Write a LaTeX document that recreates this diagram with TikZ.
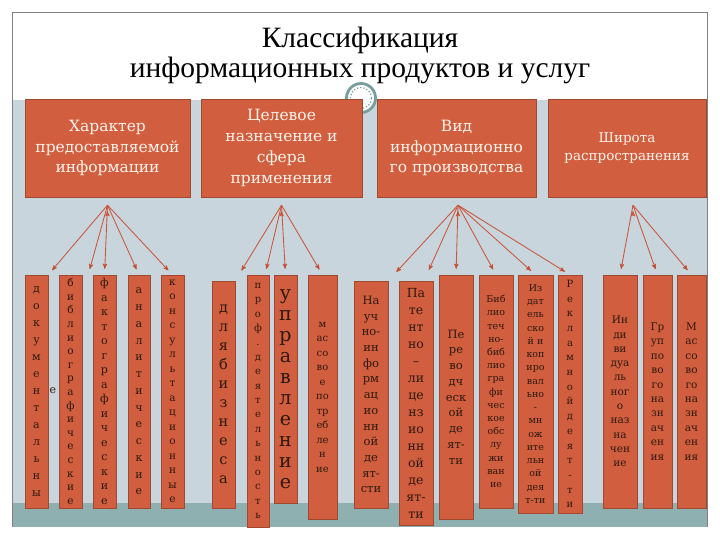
\documentclass[tikz,border=0pt]{standalone}
\usepackage{fontspec}
\setmainfont{Liberation Serif}
\newfontfamily\boxfont{DejaVu Serif}
\usetikzlibrary{arrows}
\definecolor{boxfill}{RGB}{209,94,62}
\definecolor{boxedge}{RGB}{160,72,48}
\definecolor{panel}{RGB}{201,213,220}
\definecolor{band}{RGB}{143,176,176}
\definecolor{ringcol}{RGB}{118,158,158}
\definecolor{arrcol}{RGB}{200,85,58}
\definecolor{coltext}{RGB}{45,25,15}
\definecolor{headtext}{RGB}{253,243,235}
\newcommand\colsize[2]{\boxfont\fontsize{#1}{#2}\selectfont}

\begin{document}
\begin{tikzpicture}[x=1pt,y=-1pt,>=stealth',
    head/.style={draw=boxedge, fill=boxfill, text=headtext, inner sep=0pt, align=center, minimum height=98pt},
    col/.style={draw=boxedge, fill=boxfill, text=coltext, inner sep=0pt, align=center},
    arr/.style={->, draw=arrcol, line width=0.85pt, shorten >=6pt}]
\useasboundingbox (0,0) rectangle (720,540);
% background
\fill[panel] (12,100) rectangle (707,527);
\fill[band] (12,503) rectangle (707,527);
\draw[gray, line width=0.8pt] (12,527) |- (707,12) -- (707,527);
\node[align=center, font=\fontsize{29.5}{30}\selectfont] (title) at (360,55) {Классификация\\информационных продуктов и услуг};
\draw[ringcol, line width=2.8pt, fill=white] (361,98) circle (14.5pt);
\draw[ringcol, line width=1.2pt, dotted] (361,98) circle (10.5pt);

% top boxes
\node[head, minimum width=165pt, font=\colsize{15.5}{20.5}] (h1) at (107.5,148) {Характер\\предоставляемой\\информации};
\node[head, minimum width=161pt, font=\colsize{15.5}{21}] (h2) at (281.5,148) {Целевое\\назначение и\\сфера\\применения};
\node[head, minimum width=159pt, font=\colsize{15.5}{20.5}] (h3) at (456.5,148) {Вид\\информационно\\го производства};
\node[head, minimum width=158pt, font=\colsize{13.5}{18}] (h4) at (627,148) {Широта\\распространения};
\coordinate (o1) at ([yshift=-8pt]h1.south);
\coordinate (o2) at ([yshift=-8pt]h2.south);
\coordinate (o3) at ([xshift=1.5pt,yshift=-8pt]h3.south);
\coordinate (o4) at ([xshift=6pt,yshift=-8pt]h4.south);

% columns
\node[col, minimum width=23pt, minimum height=233pt, font=\colsize{11}{17}] (d1) at (36.5,391.5) {д\\о\\к\\у\\м\\е\\н\\т\\а\\л\\ь\\н\\ы};
\node[text=coltext, inner sep=0pt, font=\colsize{11}{17}] (stray) at (53,391) {е};
\node[col, minimum width=23pt, minimum height=233pt, font=\colsize{10.5}{13.6}] (d2) at (70.5,391.5) {б\\и\\б\\л\\и\\о\\г\\р\\а\\ф\\и\\ч\\е\\с\\к\\и\\е};
\node[col, minimum width=23pt, minimum height=233pt, font=\colsize{11}{14.5}] (d3) at (104.5,391.5) {ф\\а\\к\\т\\о\\г\\р\\а\\ф\\и\\ч\\е\\с\\к\\и\\е};
\node[col, minimum width=22pt, minimum height=233pt, font=\colsize{11}{16.75}] (d4) at (139,391.5) {а\\н\\а\\л\\и\\т\\и\\ч\\е\\с\\к\\и\\е};
\node[col, minimum width=23pt, minimum height=233pt, font=\colsize{10.5}{14.5}] (d5) at (172.5,391.5) {к\\о\\н\\с\\у\\л\\ь\\т\\а\\ц\\и\\о\\н\\н\\ы\\е};

\node[col, minimum width=23pt, minimum height=227pt, font=\colsize{14.5}{19}] (e1) at (223.5,394.5) {д\\л\\я\\б\\и\\з\\н\\е\\с\\а};
\node[col, minimum width=22pt, minimum height=252pt, font=\colsize{10}{14.4}] (e2) at (258,401) {п\\р\\о\\ф\\.\\д\\е\\я\\т\\е\\л\\ь\\н\\о\\с\\т\\ь};
\node[col, minimum width=23pt, minimum height=228pt, font=\colsize{19}{21}] (e3) at (285.5,389) {у\\п\\р\\а\\в\\л\\е\\н\\и\\е};
\node[col, minimum width=29pt, minimum height=244pt, font=\colsize{10}{14.5}] (e4) at (322.5,397) {м\\ас\\со\\во\\е\\по\\тр\\еб\\ле\\н\\ие};

\node[col, minimum width=34pt, minimum height=227pt, font=\colsize{11.5}{15.7}] (f1) at (371,394.5) {На\\уч\\но-\\ин\\фо\\рм\\ац\\ио\\нн\\ой\\де\\ят-\\сти};
\node[col, minimum width=34pt, minimum height=244pt, font=\colsize{12.5}{17}] (f2) at (416,403) {Па\\те\\нт\\но\\–\\ли\\це\\нз\\ио\\нн\\ой\\де\\ят-\\ти};
\node[col, minimum width=34pt, minimum height=244pt, font=\colsize{11.5}{15.75}] (f3) at (456,397) {Пе\\ре\\во\\дч\\еск\\ой\\де\\ят-\\ти};
\node[col, minimum width=34pt, minimum height=233pt, font=\colsize{9.5}{13.2}] (f4) at (496,391.5) {Биб\\лио\\теч\\но-\\биб\\лио\\гра\\фи\\чес\\кое\\обс\\лу\\жи\\ван\\ие};
\node[col, minimum width=35pt, minimum height=238pt, font=\colsize{9.5}{13.25}] (f5) at (535.5,394) {Из\\дат\\ель\\ско\\й и\\коп\\иро\\вал\\ьно\\-\\мн\\ож\\ите\\льн\\ой\\дея\\т-ти};
\node[col, minimum width=24pt, minimum height=238pt, font=\colsize{10}{14.7}] (f6) at (570,394) {Р\\е\\к\\л\\а\\м\\н\\о\\й\\д\\е\\я\\т\\-\\т\\и};

\node[col, minimum width=34pt, minimum height=233pt, font=\colsize{10.5}{14.3}] (g1) at (620,391.5) {Ин\\ди\\ви\\дуа\\ль\\ног\\о\\наз\\на\\чен\\ие};
\node[col, minimum width=29pt, minimum height=233pt, font=\colsize{10.5}{14.4}] (g2) at (657.5,391.5) {Гр\\уп\\по\\во\\го\\на\\зн\\ач\\ен\\ия};
\node[col, minimum width=29pt, minimum height=233pt, font=\colsize{10.5}{14.4}] (g3) at (691.5,391.5) {М\\ас\\со\\во\\го\\на\\зн\\ач\\ен\\ия};

% arrows
\path[arr] (o1) edge (d1.north east)
                edge ([xshift=6pt]d2.north east)
                edge (d3.north)
                edge (d4.north)
                edge (d5.north);
\path[arr] (o2) edge[shorten >=12pt] (e1.north east)
                edge ([xshift=7pt]e2.north)
                edge (e3.north)
                edge (e4.north);
\path[arr] (o3) edge[shorten >=12pt] (f1.north east)
                edge[shorten >=12pt] ([xshift=8pt]f2.north)
                edge (f3.north)
                edge (f4.north)
                edge (f5.north)
                edge (f6.north);
\path[arr] (o4) edge (g1.north)
                edge (g2.north)
                edge (g3.north);
\end{tikzpicture}
\end{document}
